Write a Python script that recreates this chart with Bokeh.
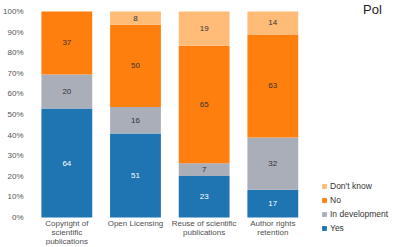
from bokeh.plotting import figure
from bokeh.models import Range1d, NumeralTickFormatter, Legend, LegendItem, ColumnDataSource, Label, FixedTicker
from bokeh.core.properties import value
from bokeh.embed import file_html
from bokeh.resources import INLINE

categories = ["Copyright of\nscientific\npublications", "Open Licensing",
              "Reuse of scientific\npublications", "Author rights\nretention"]
series = ["Yes", "In development", "No", "Don't know"]
yes = [64, 51, 23, 17]
in_dev = [20, 16, 7, 32]
no = [37, 50, 65, 63]
dont_know = [0, 8, 19, 14]
y_ticks = [0.0, 0.1, 0.2, 0.3, 0.4, 0.5, 0.6, 0.7, 0.8, 0.9, 1.0]
colors = ["#1f74b2", "#a9aeb9", "#ff7f0e", "#ffbb78"]
text_colors = ["white", "#333333", "#333333", "#333333"]
FONT = "Liberation Sans"

vals = [yes, in_dev, no, dont_know]
n = len(categories)
pos = [i + 0.5 for i in range(n)]
totals = [sum(v[i] for v in vals) for i in range(n)]
fr = [[v[i] / totals[i] for i in range(n)] for v in vals]

W, H = 391, 245
left = 25
slot = 70.0          # px per category
unit = 206.0         # px per 100 %
top_px, zero_px = 11, 217
p = figure(x_range=Range1d(0, (W - left) / slot),
           y_range=Range1d(-(H - zero_px) / unit, 1 + top_px / unit),
           width=W, height=H, output_backend="svg", toolbar_location=None,
           min_border_left=left, min_border_right=0, min_border_top=0, min_border_bottom=0)
p.outline_line_color = None
p.background_fill_color = "white"
p.xaxis.visible = False
p.xgrid.grid_line_color = None
p.ygrid.grid_line_color = None

src = ColumnDataSource(dict(x=pos, **{s: f for s, f in zip(series, fr)}))
renderers = p.vbar_stack(series, x="x", width=0.74, source=src, color=colors, line_color=None)

# value labels
for k in range(len(series)):
    xs, ys, ts = [], [], []
    for i in range(n):
        if vals[k][i] == 0:
            continue
        base = sum(fr[j][i] for j in range(k))
        xs.append(pos[i]); ys.append(base + fr[k][i] / 2); ts.append(str(vals[k][i]))
    p.text(x=xs, y=ys, text=ts, text_align="center", text_baseline="middle",
           text_font_size="8px", text_color=text_colors[k], text_font=value(FONT))

# category labels
p.text(x=pos, y=[-1.0 / unit] * n, text=categories, text_align="center", text_baseline="top",
       text_font_size="8px", text_color="#505050", text_font=value(FONT), text_line_height=1.0)

p.yaxis.ticker = FixedTicker(ticks=y_ticks)
p.yaxis.formatter = NumeralTickFormatter(format="0%")
ax = p.yaxis[0]
ax.axis_line_color = None
ax.major_tick_line_color = None
ax.minor_tick_line_color = None
ax.major_label_text_font_size = "8px"
ax.major_label_text_color = "#555555"
ax.major_label_text_font = FONT
ax.major_label_standoff = 3

items = [LegendItem(label=series[k], renderers=[renderers[k]]) for k in [3, 2, 1, 0]]
legend = Legend(items=items, location=(289, 12), glyph_width=6, glyph_height=6,
                label_text_font_size="8.5px", label_text_font=FONT,
                label_text_color="#333333", spacing=4, padding=0, margin=0,
                label_height=6, label_standoff=3, background_fill_alpha=0,
                border_line_color=None)
p.add_layout(legend, "center")

p.add_layout(Label(x=(362 - left) / slot, y=1 + 10 / unit, text="Pol", text_font_size="13px",
                   text_color="#222222", text_font=FONT, text_baseline="top"))

open("out.html", "w").write(file_html(p, INLINE))
